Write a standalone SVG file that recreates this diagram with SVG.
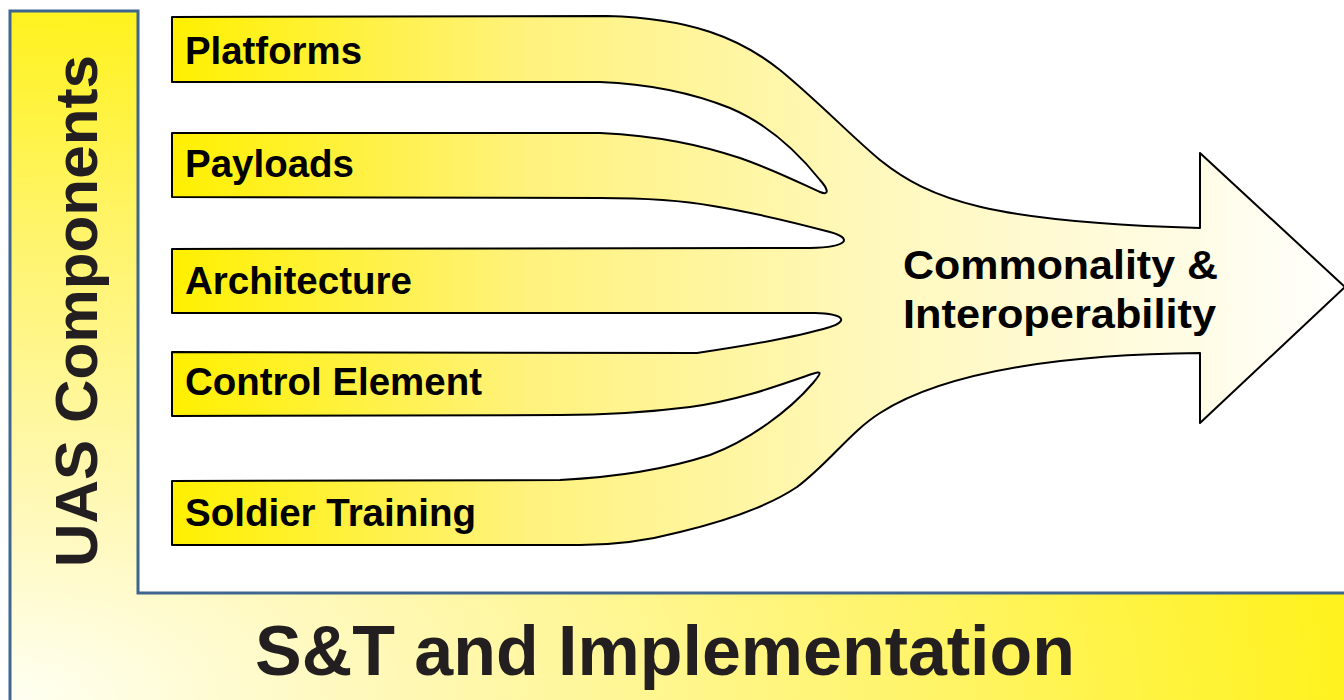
<svg xmlns="http://www.w3.org/2000/svg" width="1344" height="700" viewBox="0 0 1344 700">
<defs>
<radialGradient id="frameGrad" gradientUnits="userSpaceOnUse" cx="0" cy="0" r="1" gradientTransform="translate(10,700) scale(1334,690)">
<stop offset="0" stop-color="#fffff2"/>
<stop offset="0.3" stop-color="#fff8b4"/>
<stop offset="0.7" stop-color="#fff466"/>
<stop offset="1" stop-color="#fff21e"/>
</radialGradient>
<linearGradient id="flowGrad" gradientUnits="userSpaceOnUse" x1="172" y1="0" x2="1344" y2="0">
<stop offset="0" stop-color="#fff000"/>
<stop offset="0.3" stop-color="#fff27c"/>
<stop offset="0.6" stop-color="#fff8bc"/>
<stop offset="0.88" stop-color="#fffce6"/>
<stop offset="1" stop-color="#ffffff"/>
</linearGradient>
<style>
.lbl{font-family:"Liberation Sans",Arial,sans-serif;font-weight:bold;font-size:38px;fill:#000}
.ctr{font-size:40px}
.big{font-family:"Liberation Sans",Arial,sans-serif;font-weight:bold;fill:#231f20}
</style>
</defs>
<rect width="1344" height="700" fill="#fff"/>
<g id="frame">
<path d="M10,702 L10,11 L138,11 L138,593 L1346,593 L1346,702 Z" fill="url(#frameGrad)" stroke="#3f6690" stroke-width="3"/>
<text class="big" font-size="60" transform="translate(97,567) rotate(-90)" textLength="512" lengthAdjust="spacingAndGlyphs">UAS Components</text>
<text class="big" font-size="71" x="255" y="675" textLength="820" lengthAdjust="spacingAndGlyphs">S&amp;T and Implementation</text>
</g>
<g id="connectors">
<path id="flow" fill="url(#flowGrad)" stroke="#000" stroke-width="2" stroke-linejoin="round" d="M172,17 L607,16 C690,18 740,38 780,70 C820,103 850,135 880,160 C930,200 990,222 1200,228 L1200,153 L1345,287 L1200,423 L1200,353 C1080,354 950,368 880,413 C850,432 830,462 797,487 C770,505 730,520 680,532 C650,540 620,545 580,545 L172,545 L172,481 L560,480 C620,477 670,468 710,455 C750,440 790,410 813,383 C822,372 822,371 812,374 C780,385 740,400 690,407 C650,412 600,415 560,415 L172,416 L172,352 L697,353 C745,346 800,336 830,327 C848,321 845,314 815,313 L172,313 L172,249 L810,248 C850,247 852,238 830,232 C800,224 750,212 713,206 C680,200 640,198 600,198 L172,197 L172,133 L600,133 C660,136 700,145 740,158 C780,172 810,188 820,192 C830,196 828,189 820,180 C800,155 770,125 730,108 C690,92 650,84 600,82 L172,82 Z"/>
</g>
<g id="node-platforms"><text class="lbl" x="185" y="64" textLength="177" lengthAdjust="spacingAndGlyphs">Platforms</text></g>
<g id="node-payloads"><text class="lbl" x="185" y="177" textLength="169" lengthAdjust="spacingAndGlyphs">Payloads</text></g>
<g id="node-architecture"><text class="lbl" x="185" y="294" textLength="227" lengthAdjust="spacingAndGlyphs">Architecture</text></g>
<g id="node-control"><text class="lbl" x="185" y="395" textLength="297" lengthAdjust="spacingAndGlyphs">Control Element</text></g>
<g id="node-training"><text class="lbl" x="185" y="526" textLength="291" lengthAdjust="spacingAndGlyphs">Soldier Training</text></g>
<g id="node-commonality">
<text class="lbl ctr" x="903" y="279" textLength="315" lengthAdjust="spacingAndGlyphs">Commonality &amp;</text>
<text class="lbl ctr" x="903" y="328" textLength="313" lengthAdjust="spacingAndGlyphs">Interoperability</text>
</g>
</svg>
